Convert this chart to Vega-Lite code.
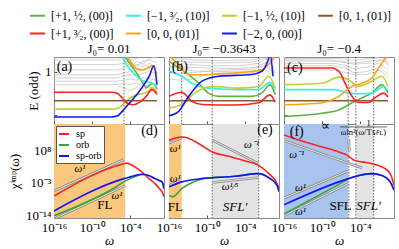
{
"$schema":"https://vega.github.io/schema/vega-lite/v6.json",
"padding":{"left":8,"top":7,"right":4,"bottom":2},
"config":{
 "font":"Liberation Serif",
 "view":{"stroke":"#888","strokeWidth":1},
 "axis":{"grid":false,"domain":false,"tickColor":"#555","tickSize":-3,"labelPadding":6,"labelFont":"Liberation Serif","labelFontSize":13,"labelColor":"#000","titleFont":"Liberation Serif","titleFontSize":13,"titleFontWeight":"normal","titleColor":"#000","labelFlush":false,"labelOverlap":false,"titlePadding":4},
 "axisX":{"titlePadding":0},
 "title":{"font":"Liberation Serif","fontSize":13,"fontWeight":"normal","offset":1,"color":"#000"}
},
"datasets":{
"V":[{"p":"a","x":1e-5},{"p":"b","x":1e-14},{"p":"b","x":6.31e-10},{"p":"b","x":0.0126},{"p":"c","x":1.26e-6},{"p":"c","x":2e-5},{"p":"c","x":0.0126},{"p":"e","x":6.31e-10},{"p":"e","x":0.0126},{"p":"f","x":1.58e-6},{"p":"f","x":2e-5},{"p":"f","x":0.0126}],
"B":[{"p":"d","k":"FL","x":1e-16,"x2":1.58e-5},{"p":"e","k":"FL","x":1e-16,"x2":1e-14},{"p":"e","k":"SFLp","x":6.31e-10,"x2":0.0126},{"p":"f","k":"SFL","x":1e-16,"x2":1.26e-6},{"p":"f","k":"SFLp","x":2e-5,"x2":0.0126}],
"R":[{"p":"f","x":6.31e-8,"x2":1.58,"y":1e16}],
"E":[
{"p":"a","s":"g","x":1e-16,"y":2.0},{"p":"a","s":"g","x":1e-6,"y":1.9},{"p":"a","s":"g","x":1.58e-5,"y":1.5},{"p":"a","s":"g","x":1e-4,"y":1.25},{"p":"a","s":"g","x":1e-3,"y":0.95},{"p":"a","s":"g","x":0.01,"y":0.6},{"p":"a","s":"g","x":0.0316,"y":0.45},{"p":"a","s":"g","x":0.316,"y":0.6},{"p":"a","s":"g","x":1.58,"y":0.4},
{"p":"a","s":"c","x":1e-16,"y":2.0},{"p":"a","s":"c","x":1e-6,"y":1.8},{"p":"a","s":"c","x":6.31e-6,"y":1.5},{"p":"a","s":"c","x":3.16e-5,"y":1.2},{"p":"a","s":"c","x":3.16e-4,"y":0.95},{"p":"a","s":"c","x":3.16e-3,"y":0.75},{"p":"a","s":"c","x":0.0316,"y":0.65},{"p":"a","s":"c","x":0.316,"y":0.6},{"p":"a","s":"c","x":1.58,"y":0.5},
{"p":"a","s":"y","x":1e-16,"y":-0.29},{"p":"a","s":"y","x":1e-7,"y":-0.29},{"p":"a","s":"y","x":1e-6,"y":-0.27},{"p":"a","s":"y","x":3.16e-6,"y":-0.2},{"p":"a","s":"y","x":1e-5,"y":-0.1},{"p":"a","s":"y","x":1e-4,"y":0.1},{"p":"a","s":"y","x":1e-3,"y":0.2},{"p":"a","s":"y","x":0.01,"y":0.25},{"p":"a","s":"y","x":0.1,"y":0.35},{"p":"a","s":"y","x":0.251,"y":0.45},{"p":"a","s":"y","x":1.58,"y":0.3},
{"p":"a","s":"n","x":1e-16,"y":0},{"p":"a","s":"n","x":1.58,"y":0},
{"p":"a","s":"r","x":1e-16,"y":0.29},{"p":"a","s":"r","x":1e-7,"y":0.29},{"p":"a","s":"r","x":1e-6,"y":0.25},{"p":"a","s":"r","x":3.16e-6,"y":0.15},{"p":"a","s":"r","x":1e-5,"y":0.03},{"p":"a","s":"r","x":3.16e-5,"y":-0.08},{"p":"a","s":"r","x":3.16e-4,"y":-0.14},{"p":"a","s":"r","x":3.16e-3,"y":-0.05},{"p":"a","s":"r","x":0.0316,"y":0.15},{"p":"a","s":"r","x":0.251,"y":0.38},{"p":"a","s":"r","x":1.58,"y":0.22},
{"p":"a","s":"o","x":1e-16,"y":2.2},{"p":"a","s":"o","x":1e-6,"y":2.0},{"p":"a","s":"o","x":3.16e-5,"y":1.5},{"p":"a","s":"o","x":1e-4,"y":1.35},{"p":"a","s":"o","x":1e-3,"y":1.1},{"p":"a","s":"o","x":0.01,"y":1.06},{"p":"a","s":"o","x":0.1,"y":1.15},{"p":"a","s":"o","x":0.316,"y":1.2},{"p":"a","s":"o","x":1.58,"y":0.9},
{"p":"a","s":"b","x":1e-16,"y":-0.56},{"p":"a","s":"b","x":1e-7,"y":-0.56},{"p":"a","s":"b","x":1e-6,"y":-0.52},{"p":"a","s":"b","x":3.16e-6,"y":-0.42},{"p":"a","s":"b","x":1e-5,"y":-0.3},{"p":"a","s":"b","x":1e-4,"y":-0.05},{"p":"a","s":"b","x":1e-3,"y":0.2},{"p":"a","s":"b","x":0.01,"y":0.5},{"p":"a","s":"b","x":0.1,"y":0.85},{"p":"a","s":"b","x":0.501,"y":1.2},{"p":"a","s":"b","x":1.58,"y":0.55},
{"p":"b","s":"g","x":1e-16,"y":1.35},{"p":"b","s":"g","x":1e-14,"y":1.06},{"p":"b","s":"g","x":5.01e-12,"y":0.6},{"p":"b","s":"g","x":1.58e-10,"y":0.26},{"p":"b","s":"g","x":6.31e-9,"y":0.15},{"p":"b","s":"g","x":1e-3,"y":0.15},{"p":"b","s":"g","x":0.0398,"y":0.26},{"p":"b","s":"g","x":0.794,"y":0.55},{"p":"b","s":"g","x":5.01,"y":0.2},
{"p":"b","s":"c","x":1e-16,"y":1.01},{"p":"b","s":"c","x":1e-14,"y":0.84},{"p":"b","s":"c","x":3.98e-13,"y":0.6},{"p":"b","s":"c","x":1.58e-10,"y":0.43},{"p":"b","s":"c","x":2.51e-6,"y":0.38},{"p":"b","s":"c","x":0.0126,"y":0.38},{"p":"b","s":"c","x":0.794,"y":0.63},{"p":"b","s":"c","x":5.01,"y":0.38},
{"p":"b","s":"y","x":1e-16,"y":-0.25},{"p":"b","s":"y","x":1e-14,"y":-0.13},{"p":"b","s":"y","x":1.26e-12,"y":0.27},{"p":"b","s":"y","x":6.31e-10,"y":0.49},{"p":"b","s":"y","x":1e-5,"y":0.43},{"p":"b","s":"y","x":0.0126,"y":0.49},{"p":"b","s":"y","x":0.501,"y":0.84},{"p":"b","s":"y","x":5.01,"y":0.43},
{"p":"b","s":"n","x":1e-16,"y":0},{"p":"b","s":"n","x":5.01,"y":0},
{"p":"b","s":"r","x":1e-16,"y":0.15},{"p":"b","s":"r","x":1e-14,"y":0.29},{"p":"b","s":"r","x":3.98e-13,"y":-0.02},{"p":"b","s":"r","x":1.58e-11,"y":-0.13},{"p":"b","s":"r","x":2.51e-6,"y":-0.15},{"p":"b","s":"r","x":0.0126,"y":-0.07},{"p":"b","s":"r","x":0.794,"y":0.2},{"p":"b","s":"r","x":5.01,"y":-0.05},
{"p":"b","s":"o","x":1e-16,"y":1.55},{"p":"b","s":"o","x":3.16e-15,"y":1.24},{"p":"b","s":"o","x":1.26e-13,"y":0.89},{"p":"b","s":"o","x":1.58e-11,"y":0.89},{"p":"b","s":"o","x":6.31e-9,"y":0.92},{"p":"b","s":"o","x":1e-3,"y":1.0},{"p":"b","s":"o","x":0.0398,"y":1.06},{"p":"b","s":"o","x":0.794,"y":1.3},{"p":"b","s":"o","x":5.01,"y":1.55},
{"p":"b","s":"b","x":1e-16,"y":-0.52},{"p":"b","s":"b","x":3.16e-15,"y":-0.37},{"p":"b","s":"b","x":1.26e-13,"y":0.15},{"p":"b","s":"b","x":1.58e-11,"y":0.67},{"p":"b","s":"b","x":6.31e-9,"y":0.84},{"p":"b","s":"b","x":1e-3,"y":0.9},{"p":"b","s":"b","x":0.0398,"y":1.01},{"p":"b","s":"b","x":0.398,"y":1.4},{"p":"b","s":"b","x":0.794,"y":1.6},{"p":"b","s":"b","x":2.24,"y":0.84},
{"p":"c","s":"g","x":1e-16,"y":-0.54},{"p":"c","s":"g","x":1e-10,"y":-0.43},{"p":"c","s":"g","x":3.98e-8,"y":-0.32},{"p":"c","s":"g","x":5.01e-6,"y":-0.07},{"p":"c","s":"g","x":2e-4,"y":0.1},{"p":"c","s":"g","x":6.31e-3,"y":0.26},{"p":"c","s":"g","x":0.251,"y":0.55},{"p":"c","s":"g","x":2.24,"y":0.26},
{"p":"c","s":"c","x":1e-16,"y":0.38},{"p":"c","s":"c","x":1e-8,"y":0.38},{"p":"c","s":"c","x":1.58e-6,"y":0.26},{"p":"c","s":"c","x":5.01e-5,"y":0.24},{"p":"c","s":"c","x":6.31e-3,"y":0.26},{"p":"c","s":"c","x":0.501,"y":0.49},{"p":"c","s":"c","x":2.24,"y":0.33},
{"p":"c","s":"y","x":1e-16,"y":0.55},{"p":"c","s":"y","x":1e-10,"y":0.6},{"p":"c","s":"y","x":3.98e-8,"y":0.81},{"p":"c","s":"y","x":1.58e-6,"y":0.72},{"p":"c","s":"y","x":5.01e-5,"y":0.49},{"p":"c","s":"y","x":6.31e-3,"y":0.67},{"p":"c","s":"y","x":0.251,"y":0.84},{"p":"c","s":"y","x":2.24,"y":0.49},
{"p":"c","s":"n","x":1e-16,"y":0},{"p":"c","s":"n","x":2.24,"y":0},
{"p":"c","s":"r","x":1e-16,"y":1.12},{"p":"c","s":"r","x":3.16e-9,"y":1.12},{"p":"c","s":"r","x":6.31e-8,"y":0.96},{"p":"c","s":"r","x":3.98e-7,"y":0.6},{"p":"c","s":"r","x":5.01e-6,"y":0.15},{"p":"c","s":"r","x":5.01e-5,"y":-0.06},{"p":"c","s":"r","x":2e-3,"y":-0.06},{"p":"c","s":"r","x":0.02,"y":0.1},{"p":"c","s":"r","x":0.501,"y":0.26},{"p":"c","s":"r","x":2.24,"y":0.13},
{"p":"c","s":"o","x":1e-16,"y":-0.14},{"p":"c","s":"o","x":1e-10,"y":-0.07},{"p":"c","s":"o","x":3.98e-8,"y":0.15},{"p":"c","s":"o","x":5.01e-6,"y":0.49},{"p":"c","s":"o","x":2e-4,"y":0.6},{"p":"c","s":"o","x":6.31e-3,"y":0.78},{"p":"c","s":"o","x":0.251,"y":1.29},{"p":"c","s":"o","x":2.24,"y":1.55}
],
"G":[
{"p":"a","g":"1","x":1e-16,"y":1.4},{"p":"a","g":"1","x":1e-6,"y":1.4},{"p":"a","g":"1","x":1e-5,"y":1.45},{"p":"a","g":"1","x":1e-4,"y":1.55},
{"p":"a","g":"2","x":1e-16,"y":1.24},{"p":"a","g":"2","x":1e-6,"y":1.24},{"p":"a","g":"2","x":1e-5,"y":1.3},{"p":"a","g":"2","x":1e-4,"y":1.4},{"p":"a","g":"2","x":1e-3,"y":1.45},{"p":"a","g":"2","x":0.01,"y":1.55},
{"p":"a","g":"3","x":1e-16,"y":1.06},{"p":"a","g":"3","x":1e-6,"y":1.06},{"p":"a","g":"3","x":1e-5,"y":1.1},{"p":"a","g":"3","x":1e-4,"y":1.3},{"p":"a","g":"3","x":1e-3,"y":1.2},{"p":"a","g":"3","x":0.01,"y":1.35},{"p":"a","g":"3","x":0.1,"y":1.4},{"p":"a","g":"3","x":1.58,"y":1.3},
{"p":"a","g":"4","x":1e-16,"y":0.89},{"p":"a","g":"4","x":1e-6,"y":0.89},{"p":"a","g":"4","x":1e-5,"y":0.95},{"p":"a","g":"4","x":1e-4,"y":1.0},{"p":"a","g":"4","x":1e-3,"y":1.25},{"p":"a","g":"4","x":0.01,"y":1.15},{"p":"a","g":"4","x":0.1,"y":1.3},{"p":"a","g":"4","x":1.58,"y":1.1},
{"p":"a","g":"5","x":1e-16,"y":0.78},{"p":"a","g":"5","x":1e-6,"y":0.78},{"p":"a","g":"5","x":1e-5,"y":0.85},{"p":"a","g":"5","x":1e-4,"y":0.9},{"p":"a","g":"5","x":1e-3,"y":0.85},{"p":"a","g":"5","x":0.01,"y":0.95},{"p":"a","g":"5","x":0.1,"y":1.0},{"p":"a","g":"5","x":1.58,"y":0.95},
{"p":"a","g":"6","x":1e-16,"y":0.67},{"p":"a","g":"6","x":1e-6,"y":0.67},{"p":"a","g":"6","x":1e-5,"y":0.7},{"p":"a","g":"6","x":1e-4,"y":0.75},{"p":"a","g":"6","x":1e-3,"y":0.7},{"p":"a","g":"6","x":0.01,"y":0.8},{"p":"a","g":"6","x":0.1,"y":0.75},{"p":"a","g":"6","x":1.58,"y":0.7},
{"p":"a","g":"7","x":1e-16,"y":0.55},{"p":"a","g":"7","x":1e-6,"y":0.55},{"p":"a","g":"7","x":1e-5,"y":0.6},{"p":"a","g":"7","x":1e-4,"y":0.55},{"p":"a","g":"7","x":1e-3,"y":0.6},{"p":"a","g":"7","x":0.01,"y":0.5},{"p":"a","g":"7","x":0.1,"y":0.55},{"p":"a","g":"7","x":1.58,"y":0.6},
{"p":"a","g":"8","x":1e-6,"y":0.5},{"p":"a","g":"8","x":1e-5,"y":0.45},{"p":"a","g":"8","x":1e-4,"y":0.35},{"p":"a","g":"8","x":1e-3,"y":0.45},{"p":"a","g":"8","x":0.01,"y":0.4},{"p":"a","g":"8","x":0.1,"y":0.45},{"p":"a","g":"8","x":1.58,"y":0.35},
{"p":"a","g":"9","x":3.16e-6,"y":1.55},{"p":"a","g":"9","x":1e-4,"y":1.15},{"p":"a","g":"9","x":1e-3,"y":1.35},{"p":"a","g":"9","x":0.01,"y":1.25},{"p":"a","g":"9","x":0.1,"y":1.45},{"p":"a","g":"9","x":1.58,"y":1.5},
{"p":"a","g":"10","x":3.16e-5,"y":1.55},{"p":"a","g":"10","x":1e-3,"y":1.05},{"p":"a","g":"10","x":0.01,"y":1.05},{"p":"a","g":"10","x":0.1,"y":1.2},{"p":"a","g":"10","x":1.58,"y":1.2},
{"p":"b","g":"1","x":1e-16,"y":1.45},{"p":"b","g":"1","x":1e-12,"y":1.4},{"p":"b","g":"1","x":1e-8,"y":1.38},{"p":"b","g":"1","x":1e-3,"y":1.4},{"p":"b","g":"1","x":0.1,"y":1.5},{"p":"b","g":"1","x":5.01,"y":1.45},
{"p":"b","g":"2","x":1e-16,"y":1.3},{"p":"b","g":"2","x":1e-13,"y":1.25},{"p":"b","g":"2","x":1e-10,"y":1.2},{"p":"b","g":"2","x":1e-5,"y":1.2},{"p":"b","g":"2","x":0.01,"y":1.28},{"p":"b","g":"2","x":0.316,"y":1.45},{"p":"b","g":"2","x":5.01,"y":1.3},
{"p":"b","g":"3","x":1e-16,"y":1.15},{"p":"b","g":"3","x":1e-13,"y":1.15},{"p":"b","g":"3","x":1e-10,"y":1.12},{"p":"b","g":"3","x":1e-5,"y":1.1},{"p":"b","g":"3","x":0.01,"y":1.15},{"p":"b","g":"3","x":0.316,"y":1.35},{"p":"b","g":"3","x":5.01,"y":1.1},
{"p":"b","g":"4","x":1e-16,"y":1.2},{"p":"b","g":"4","x":1e-14,"y":1.1},{"p":"b","g":"4","x":1e-12,"y":1.02},{"p":"b","g":"4","x":1e-8,"y":1.0},{"p":"b","g":"4","x":1e-3,"y":1.02},{"p":"b","g":"4","x":0.1,"y":1.2},{"p":"b","g":"4","x":5.01,"y":0.95},
{"p":"b","g":"5","x":1e-16,"y":0.95},{"p":"b","g":"5","x":1e-14,"y":0.95},{"p":"b","g":"5","x":1e-12,"y":0.97},{"p":"b","g":"5","x":1e-8,"y":1.05},{"p":"b","g":"5","x":1e-3,"y":1.08},{"p":"b","g":"5","x":0.1,"y":1.3},{"p":"b","g":"5","x":5.01,"y":1.0},
{"p":"b","g":"6","x":1e-16,"y":1.38},{"p":"b","g":"6","x":1e-13,"y":1.33},{"p":"b","g":"6","x":1e-8,"y":1.3},{"p":"b","g":"6","x":1e-3,"y":1.32},{"p":"b","g":"6","x":0.1,"y":1.45},{"p":"b","g":"6","x":5.01,"y":1.4},
{"p":"b","g":"7","x":1e-16,"y":0.75},{"p":"b","g":"7","x":1e-14,"y":0.7},{"p":"b","g":"7","x":1e-12,"y":0.75},{"p":"b","g":"7","x":1e-10,"y":0.9},{"p":"b","g":"7","x":1e-8,"y":0.95},{"p":"b","g":"7","x":1e-3,"y":0.95},{"p":"b","g":"7","x":0.1,"y":1.1},{"p":"b","g":"7","x":5.01,"y":0.8},
{"p":"c","g":"1","x":1e-16,"y":1.45},{"p":"c","g":"1","x":1e-8,"y":1.45},{"p":"c","g":"1","x":1e-5,"y":1.4},{"p":"c","g":"1","x":0.01,"y":1.45},{"p":"c","g":"1","x":1,"y":1.55},
{"p":"c","g":"2","x":1e-16,"y":1.36},{"p":"c","g":"2","x":1e-8,"y":1.36},{"p":"c","g":"2","x":1e-6,"y":1.3},{"p":"c","g":"2","x":1e-5,"y":1.25},{"p":"c","g":"2","x":0.01,"y":1.3},{"p":"c","g":"2","x":1,"y":1.45},{"p":"c","g":"2","x":2.24,"y":1.2},
{"p":"c","g":"3","x":1e-16,"y":1.28},{"p":"c","g":"3","x":1e-8,"y":1.28},{"p":"c","g":"3","x":1e-6,"y":1.2},{"p":"c","g":"3","x":1e-5,"y":1.1},{"p":"c","g":"3","x":1e-3,"y":1.15},{"p":"c","g":"3","x":0.1,"y":1.3},{"p":"c","g":"3","x":2.24,"y":1.05},
{"p":"c","g":"4","x":1e-16,"y":1.2},{"p":"c","g":"4","x":1e-8,"y":1.2},{"p":"c","g":"4","x":1e-6,"y":1.1},{"p":"c","g":"4","x":1e-5,"y":0.95},{"p":"c","g":"4","x":1e-3,"y":1.0},{"p":"c","g":"4","x":0.1,"y":1.15},{"p":"c","g":"4","x":2.24,"y":0.9},
{"p":"c","g":"5","x":1e-16,"y":1.4},{"p":"c","g":"5","x":1e-9,"y":1.4},{"p":"c","g":"5","x":1e-7,"y":1.35},{"p":"c","g":"5","x":1e-5,"y":1.3},{"p":"c","g":"5","x":1e-3,"y":1.35},{"p":"c","g":"5","x":0.1,"y":1.4},{"p":"c","g":"5","x":2.24,"y":1.3},
{"p":"c","g":"6","x":1e-16,"y":1.05},{"p":"c","g":"6","x":1e-8,"y":1.05},{"p":"c","g":"6","x":1e-6,"y":0.95},{"p":"c","g":"6","x":1e-5,"y":0.9},{"p":"c","g":"6","x":1e-3,"y":0.9},{"p":"c","g":"6","x":0.1,"y":1.05},{"p":"c","g":"6","x":2.24,"y":0.8}
],
"C":[
{"p":"d","s":"sp","x":1e-16,"y":3.16e-8},{"p":"d","s":"sp","x":1e-5,"y":3162},{"p":"d","s":"sp","x":2.51e-5,"y":5012},{"p":"d","s":"sp","x":1e-4,"y":1995},{"p":"d","s":"sp","x":1e-3,"y":100},{"p":"d","s":"sp","x":6.31e-3,"y":5.01},{"p":"d","s":"sp","x":0.1,"y":0.02},{"p":"d","s":"sp","x":0.794,"y":5.01e-4},{"p":"d","s":"sp","x":3.16,"y":1.58e-5},{"p":"d","s":"sp","x":10,"y":7.94e-7},{"p":"d","s":"sp","x":20,"y":1.58e-8},
{"p":"d","s":"orb","x":1e-16,"y":6.31e-15},{"p":"d","s":"orb","x":3.98e-7,"y":2.51e-5},{"p":"d","s":"orb","x":1e-5,"y":2e-3},{"p":"d","s":"orb","x":1e-4,"y":0.0251},{"p":"d","s":"orb","x":1e-3,"y":0.2},{"p":"d","s":"orb","x":6.31e-3,"y":0.631},{"p":"d","s":"orb","x":0.1,"y":0.251},{"p":"d","s":"orb","x":0.794,"y":0.0251},{"p":"d","s":"orb","x":3.16,"y":6.31e-3},{"p":"d","s":"orb","x":10,"y":2e-3},{"p":"d","s":"orb","x":20,"y":1e-5},
{"p":"d","s":"sp-orb","x":1e-16,"y":2.51e-13},{"p":"d","s":"sp-orb","x":1e-5,"y":0.0251},{"p":"d","s":"sp-orb","x":1e-4,"y":0.1},{"p":"d","s":"sp-orb","x":1e-3,"y":0.398},{"p":"d","s":"sp-orb","x":6.31e-3,"y":0.794},{"p":"d","s":"sp-orb","x":0.1,"y":0.251},{"p":"d","s":"sp-orb","x":0.794,"y":0.0251},{"p":"d","s":"sp-orb","x":3.16,"y":6.31e-3},{"p":"d","s":"sp-orb","x":10,"y":2e-3},{"p":"d","s":"sp-orb","x":20,"y":1e-5},
{"p":"e","s":"sp","x":1e-16,"y":3.16e11},{"p":"e","s":"sp","x":1e-14,"y":3.98e12},{"p":"e","s":"sp","x":3.16e-14,"y":3.16e12},{"p":"e","s":"sp","x":5.01e-12,"y":2e10},{"p":"e","s":"sp","x":6.31e-10,"y":3.16e7},{"p":"e","s":"sp","x":2.51e-7,"y":1e6},{"p":"e","s":"sp","x":1e-4,"y":2.51e4},{"p":"e","s":"sp","x":0.0126,"y":794},{"p":"e","s":"sp","x":0.501,"y":1.26},{"p":"e","s":"sp","x":10,"y":5.01e-4},{"p":"e","s":"sp","x":20,"y":1e-5},
{"p":"e","s":"orb","x":1e-16,"y":5.01e-8},{"p":"e","s":"orb","x":3.98e-16,"y":1.58e-8},{"p":"e","s":"orb","x":1e-14,"y":1e-5},{"p":"e","s":"orb","x":1.26e-13,"y":3.16e-4},{"p":"e","s":"orb","x":5.01e-12,"y":0.01},{"p":"e","s":"orb","x":1.58e-11,"y":0.0251},{"p":"e","s":"orb","x":2.51e-6,"y":0.158},{"p":"e","s":"orb","x":0.0126,"y":1.26},{"p":"e","s":"orb","x":0.501,"y":0.0501},{"p":"e","s":"orb","x":10,"y":1.26e-4},{"p":"e","s":"orb","x":20,"y":1e-6},
{"p":"e","s":"sp-orb","x":1e-16,"y":3.98e-5},{"p":"e","s":"sp-orb","x":1e-14,"y":2e-3},{"p":"e","s":"sp-orb","x":1.58e-11,"y":0.0251},{"p":"e","s":"sp-orb","x":2.51e-6,"y":0.158},{"p":"e","s":"sp-orb","x":0.0126,"y":1.26},{"p":"e","s":"sp-orb","x":0.501,"y":0.0501},{"p":"e","s":"sp-orb","x":10,"y":1.26e-4},{"p":"e","s":"sp-orb","x":20,"y":1e-6},
{"p":"f","s":"sp","x":1e-16,"y":2e13},{"p":"f","s":"sp","x":2e-13,"y":7.94e10},{"p":"f","s":"sp","x":1e-10,"y":1.58e9},{"p":"f","s":"sp","x":3.98e-8,"y":3.16e7},{"p":"f","s":"sp","x":7.94e-7,"y":2.51e6},{"p":"f","s":"sp","x":1e-5,"y":5.01e4},{"p":"f","s":"sp","x":2e-4,"y":1.26e4},{"p":"f","s":"sp","x":6.31e-3,"y":3162},{"p":"f","s":"sp","x":0.251,"y":251},{"p":"f","s":"sp","x":5.01,"y":1.26},{"p":"f","s":"sp","x":12.6,"y":6.31e-3},{"p":"f","s":"sp","x":20,"y":1e-4},
{"p":"f","s":"orb","x":1e-16,"y":2.51e-14},{"p":"f","s":"orb","x":5.01e-7,"y":6.31e-3},{"p":"f","s":"orb","x":1.26e-6,"y":0.02},{"p":"f","s":"orb","x":6.31e-5,"y":0.316},{"p":"f","s":"orb","x":6.31e-3,"y":1.26},{"p":"f","s":"orb","x":0.251,"y":0.316},{"p":"f","s":"orb","x":5.01,"y":2e-3},{"p":"f","s":"orb","x":20,"y":3.16e-6},
{"p":"f","s":"sp-orb","x":1e-16,"y":3.16e-11},{"p":"f","s":"sp-orb","x":1.26e-6,"y":0.0251},{"p":"f","s":"sp-orb","x":6.31e-5,"y":0.316},{"p":"f","s":"sp-orb","x":6.31e-3,"y":1.26},{"p":"f","s":"sp-orb","x":0.251,"y":0.316},{"p":"f","s":"sp-orb","x":5.01,"y":2e-3},{"p":"f","s":"sp-orb","x":20,"y":3.16e-6}
],
"L":[
{"p":"d","g":"1","x":1e-16,"y":1.58e-6},{"p":"d","g":"1","x":1e-5,"y":7.94e4},
{"p":"d","g":"2","x":1e-16,"y":5.01e-16},{"p":"d","g":"2","x":1.58e-5,"y":1e-4},
{"p":"e","g":"1","x":1e-16,"y":3.16e10},{"p":"e","g":"1","x":1e-14,"y":2e12},
{"p":"e","g":"2","x":1e-16,"y":1.26e-4},{"p":"e","g":"2","x":6.31e-15,"y":6.31e-3},
{"p":"e","g":"3","x":6.31e-10,"y":3.16e11},{"p":"e","g":"3","x":0.0126,"y":3162},
{"p":"e","g":"4","x":6.31e-10,"y":1.26e-3},{"p":"e","g":"4","x":0.0126,"y":0.0631},
{"p":"f","g":"1","x":1e-16,"y":2e11},{"p":"f","g":"1","x":2e-4,"y":100},
{"p":"f","g":"2","x":1e-16,"y":6.31e-9},{"p":"f","g":"2","x":1.26e-6,"y":10},
{"p":"f","g":"3","x":1e-16,"y":6.31e-15},{"p":"f","g":"3","x":1.26e-6,"y":5.01e-4},
{"p":"f","g":"4","x":1.58e-6,"y":1e12},{"p":"f","g":"4","x":1.78e-6,"y":3.16e8},{"p":"f","g":"4","x":2.51e-6,"y":6.31e7}
],
"T":[
{"p":"a","k":"lab","t":"(a)","x":4.47e-15,"y":1.15},
{"p":"b","k":"lab","t":"(b)","x":5.01e-15,"y":1.17},
{"p":"c","k":"lab","t":"(c)","x":5.01e-15,"y":1.12},
{"p":"d","k":"lab","t":"(d)","x":0.1,"y":3.98e14},
{"p":"d","k":"om","t":"ω¹","x":1.26e-12,"y":50},
{"p":"d","k":"om","t":"ω¹","x":7.94e-7,"y":3.16e-8},
{"p":"d","k":"big","t":"FL","x":1e-8,"y":2.51e-11},
{"p":"e","k":"lab","t":"(e)","x":0.126,"y":1e15},
{"p":"e","k":"om","t":"ω¹","x":1e-15,"y":3.98e8},
{"p":"e","k":"om","t":"ω¹","x":1e-15,"y":0.0251},
{"p":"e","k":"om","t":"ω⁻¹","x":1e-3,"y":6.31e9},
{"p":"e","k":"om","t":"ω¹⁄⁵","x":3.98e-7,"y":3.98e-5},
{"p":"e","k":"big","t":"FL","x":1e-15,"y":6.31e-12},
{"p":"e","k":"it","t":"SFL′","x":2.51e-6,"y":6.31e-12},
{"p":"f","k":"lab","t":"(f)","x":1e-14,"y":2e14},
{"p":"f","k":"om","t":"ω⁻¹","x":1e-14,"y":2.51e6},
{"p":"f","k":"om","t":"ω¹","x":3.98e-14,"y":1.26e-5},
{"p":"f","k":"om","t":"ω¹","x":3.98e-14,"y":1.26e-13},
{"p":"f","k":"big","t":"SFL","x":7.94e-8,"y":1e-11},
{"p":"f","k":"it","t":"SFL′","x":2e-3,"y":1e-11},
{"p":"f","k":"ann1","t":"∝","x":3.16e-10,"y":1.58e16},
{"p":"f","k":"ann2","t":"1","x":2e-3,"y":2e17},
{"p":"f","k":"ann2","t":"ωln²(ω/Tꜱꜰʟ)","x":3.16e-4,"y":2e14}
]
},
"columns":3,
"spacing":{"row":0,"column":5},
"bounds":"flush",
"resolve":{"scale":{"color":"shared","stroke":"independent","fill":"independent"},"legend":{"stroke":"independent"}},
"concat":[
{"width":110,"height":67,"title":"J₀= 0.01",
 "layer":[
  {"data":{"name":"G"},"transform":[{"filter":"datum.p=='a'"}],"mark":{"type":"line","stroke":"#c6c6c6","strokeWidth":0.8,"clip":true},
   "encoding":{"x":{"field":"x","type":"quantitative","scale":{"type":"log","domain":[1e-16,20],"nice":false},"axis":{"values":[1e-16,1e-10,1e-4],"labels":false,"title":null}},
    "y":{"field":"y","type":"quantitative","scale":{"domain":[-0.8,1.5],"nice":false,"zero":false},"axis":{"values":[-0.5,0,0.5,1],"labelExpr":"datum.value==0?'0':datum.value==1?'1':''","title":"E (odd)"}},
    "detail":{"field":"g"}}},
  {"data":{"name":"V"},"transform":[{"filter":"datum.p=='a'"}],"mark":{"type":"rule","stroke":"#444","strokeWidth":0.8,"strokeDash":[1.5,1.5]},
   "encoding":{"x":{"field":"x","type":"quantitative","scale":{"type":"log","domain":[1e-16,20],"nice":false}}}},
  {"data":{"name":"E"},"transform":[{"filter":"datum.p=='a'"}],"mark":{"type":"line","strokeWidth":1.6,"clip":true,"interpolate":"monotone"},
   "encoding":{"x":{"field":"x","type":"quantitative","scale":{"type":"log","domain":[1e-16,20],"nice":false}},
    "y":{"field":"y","type":"quantitative","scale":{"domain":[-0.8,1.5],"nice":false,"zero":false}},
    "color":{"field":"s","type":"nominal","scale":{"domain":["g","c","y","n","r","o","b"],"range":["#63b33b","#36eef0","#c8cc2e","#8b5a2b","#ff2020","#ffa214","#1515f5"]},
     "legend":{"orient":"none","legendX":-25,"legendY":-50,"columns":4,"direction":"horizontal","title":null,"symbolType":"stroke","symbolStrokeWidth":2,"symbolSize":220,"labelFont":"Liberation Serif","labelFontSize":12,"labelOffset":5,"columnPadding":8,"rowPadding":3,"gridAlign":"all","labelLimit":200,
      "labelExpr":"datum.label=='g'?'[+1, ½, (00)]':datum.label=='c'?'[−1, ³⁄₂, (10)]':datum.label=='y'?'[−1, ½, (10)]':datum.label=='n'?'[0, 1, (01)]':datum.label=='r'?'[+1, ³⁄₂, (00)]':datum.label=='o'?'[0, 0, (01)]':'[−2, 0, (00)]'"}}}},
  {"data":{"name":"T"},"transform":[{"filter":"datum.p=='a'"}],"mark":{"type":"text","fontSize":14},
   "encoding":{"x":{"field":"x","type":"quantitative","scale":{"type":"log","domain":[1e-16,20],"nice":false}},"y":{"field":"y","type":"quantitative","scale":{"domain":[-0.8,1.5],"nice":false,"zero":false}},"text":{"field":"t"}}}
 ]},
{"width":110,"height":67,"title":"J₀= −0.3643",
 "layer":[
  {"data":{"name":"G"},"transform":[{"filter":"datum.p=='b'"}],"mark":{"type":"line","stroke":"#c6c6c6","strokeWidth":0.8,"clip":true},
   "encoding":{"x":{"field":"x","type":"quantitative","scale":{"type":"log","domain":[1e-16,20],"nice":false},"axis":{"values":[1e-16,1e-10,1e-4],"labels":false,"title":null}},
    "y":{"field":"y","type":"quantitative","scale":{"domain":[-0.8,1.5],"nice":false,"zero":false},"axis":{"values":[-0.5,0,0.5,1],"labels":false,"title":null}},
    "detail":{"field":"g"}}},
  {"data":{"name":"V"},"transform":[{"filter":"datum.p=='b'"}],"mark":{"type":"rule","stroke":"#444","strokeWidth":0.8,"strokeDash":[1.5,1.5]},
   "encoding":{"x":{"field":"x","type":"quantitative","scale":{"type":"log","domain":[1e-16,20],"nice":false}}}},
  {"data":{"name":"E"},"transform":[{"filter":"datum.p=='b'"}],"mark":{"type":"line","strokeWidth":1.6,"clip":true,"interpolate":"monotone"},
   "encoding":{"x":{"field":"x","type":"quantitative","scale":{"type":"log","domain":[1e-16,20],"nice":false}},
    "y":{"field":"y","type":"quantitative","scale":{"domain":[-0.8,1.5],"nice":false,"zero":false}},
    "color":{"field":"s","type":"nominal","scale":{"domain":["g","c","y","n","r","o","b"],"range":["#63b33b","#36eef0","#c8cc2e","#8b5a2b","#ff2020","#ffa214","#1515f5"]},
     "legend":{"orient":"none","legendX":-25,"legendY":-50,"columns":4,"direction":"horizontal","title":null,"symbolType":"stroke","symbolStrokeWidth":2,"symbolSize":220,"labelFont":"Liberation Serif","labelFontSize":12,"labelOffset":5,"columnPadding":8,"rowPadding":3,"gridAlign":"all","labelLimit":200,
      "labelExpr":"datum.label=='g'?'[+1, ½, (00)]':datum.label=='c'?'[−1, ³⁄₂, (10)]':datum.label=='y'?'[−1, ½, (10)]':datum.label=='n'?'[0, 1, (01)]':datum.label=='r'?'[+1, ³⁄₂, (00)]':datum.label=='o'?'[0, 0, (01)]':'[−2, 0, (00)]'"}}}},
  {"data":{"name":"T"},"transform":[{"filter":"datum.p=='b'"}],"mark":{"type":"text","fontSize":14},
   "encoding":{"x":{"field":"x","type":"quantitative","scale":{"type":"log","domain":[1e-16,20],"nice":false}},"y":{"field":"y","type":"quantitative","scale":{"domain":[-0.8,1.5],"nice":false,"zero":false}},"text":{"field":"t"}}}
 ]},
{"width":110,"height":67,"title":"J₀= −0.4",
 "layer":[
  {"data":{"name":"G"},"transform":[{"filter":"datum.p=='c'"}],"mark":{"type":"line","stroke":"#c6c6c6","strokeWidth":0.8,"clip":true},
   "encoding":{"x":{"field":"x","type":"quantitative","scale":{"type":"log","domain":[1e-16,20],"nice":false},"axis":{"values":[1e-16,1e-10,1e-4],"labels":false,"title":null}},
    "y":{"field":"y","type":"quantitative","scale":{"domain":[-0.8,1.5],"nice":false,"zero":false},"axis":{"values":[-0.5,0,0.5,1],"labels":false,"title":null}},
    "detail":{"field":"g"}}},
  {"data":{"name":"V"},"transform":[{"filter":"datum.p=='c'"}],"mark":{"type":"rule","stroke":"#444","strokeWidth":0.8,"strokeDash":[1.5,1.5]},
   "encoding":{"x":{"field":"x","type":"quantitative","scale":{"type":"log","domain":[1e-16,20],"nice":false}}}},
  {"data":{"name":"E"},"transform":[{"filter":"datum.p=='c'"}],"mark":{"type":"line","strokeWidth":1.6,"clip":true,"interpolate":"monotone"},
   "encoding":{"x":{"field":"x","type":"quantitative","scale":{"type":"log","domain":[1e-16,20],"nice":false}},
    "y":{"field":"y","type":"quantitative","scale":{"domain":[-0.8,1.5],"nice":false,"zero":false}},
    "color":{"field":"s","type":"nominal","scale":{"domain":["g","c","y","n","r","o","b"],"range":["#63b33b","#36eef0","#c8cc2e","#8b5a2b","#ff2020","#ffa214","#1515f5"]},
     "legend":{"orient":"none","legendX":-25,"legendY":-50,"columns":4,"direction":"horizontal","title":null,"symbolType":"stroke","symbolStrokeWidth":2,"symbolSize":220,"labelFont":"Liberation Serif","labelFontSize":12,"labelOffset":5,"columnPadding":8,"rowPadding":3,"gridAlign":"all","labelLimit":200,
      "labelExpr":"datum.label=='g'?'[+1, ½, (00)]':datum.label=='c'?'[−1, ³⁄₂, (10)]':datum.label=='y'?'[−1, ½, (10)]':datum.label=='n'?'[0, 1, (01)]':datum.label=='r'?'[+1, ³⁄₂, (00)]':datum.label=='o'?'[0, 0, (01)]':'[−2, 0, (00)]'"}}}},
  {"data":{"name":"T"},"transform":[{"filter":"datum.p=='c'"}],"mark":{"type":"text","fontSize":14},
   "encoding":{"x":{"field":"x","type":"quantitative","scale":{"type":"log","domain":[1e-16,20],"nice":false}},"y":{"field":"y","type":"quantitative","scale":{"domain":[-0.8,1.5],"nice":false,"zero":false}},"text":{"field":"t"}}}
 ]},
{"width":110,"height":94,
 "layer":[
  {"data":{"name":"B"},"transform":[{"filter":"datum.p=='d'"}],"mark":{"type":"rect","opacity":1},
   "encoding":{"x":{"field":"x","type":"quantitative","scale":{"type":"log","domain":[1e-16,20],"nice":false},"axis":{"values":[1e-16,1e-10,1e-4],"labelExpr":"datum.value<1e-13?'10⁻¹⁶':datum.value<1e-7?'10⁻¹⁰':'10⁻⁴'","title":"ω","titleFontStyle":"italic"}},"x2":{"field":"x2"},
    "fill":{"field":"k","type":"nominal","scale":{"domain":["FL","SFL","SFLp"],"range":["#fac77c","#a8c4ee","#e3e3e3"]},"legend":null}}},
  {"data":{"name":"L"},"transform":[{"filter":"datum.p=='d'"}],"mark":{"type":"line","stroke":"#8a8a8a","strokeWidth":2.6,"clip":true},
   "encoding":{"x":{"field":"x","type":"quantitative","scale":{"type":"log","domain":[1e-16,20],"nice":false}},
    "y":{"field":"y","type":"quantitative","scale":{"type":"log","domain":[1e-15,1e17],"nice":false},"axis":{"values":[1e-14,1e-3,1e8],"labelExpr":"datum.value<1e-10?'10⁻¹⁴':datum.value<1?'10⁻³':'10⁸'","title":"χⁱᵐᵖ(ω)"}},"detail":{"field":"g"}}},
  {"data":{"name":"L"},"transform":[{"filter":"datum.p=='d'"}],"mark":{"type":"line","stroke":"#eeeeee","strokeWidth":0.9,"clip":true},
   "encoding":{"x":{"field":"x","type":"quantitative","scale":{"type":"log","domain":[1e-16,20],"nice":false}},"y":{"field":"y","type":"quantitative","scale":{"type":"log","domain":[1e-15,1e17],"nice":false}},"detail":{"field":"g"}}},
  {"data":{"name":"C"},"transform":[{"filter":"datum.p=='d'&&datum.s!='sp-orb'"}],"mark":{"type":"line","strokeWidth":1.6,"clip":true,"interpolate":"monotone"},
   "encoding":{"x":{"field":"x","type":"quantitative","scale":{"type":"log","domain":[1e-16,20],"nice":false}},"y":{"field":"y","type":"quantitative","scale":{"type":"log","domain":[1e-15,1e17],"nice":false}},
    "stroke":{"field":"s","type":"nominal","scale":{"domain":["sp","orb","sp-orb"],"range":["#ff2020","#35a835","#1515f5"]},
     "legend":{"orient":"top-left","offset":2,"title":null,"symbolType":"stroke","symbolStrokeWidth":2,"symbolSize":100,"labelFontSize":10,"labelFont":"Liberation Serif","padding":2,"strokeColor":"#555","fillColor":"#ffffff","rowPadding":0,"labelOffset":6}}}},
  {"data":{"name":"C"},"transform":[{"filter":"datum.p=='d'&&datum.s=='sp-orb'"}],"mark":{"type":"line","strokeWidth":1.6,"clip":true,"interpolate":"monotone"},
   "encoding":{"x":{"field":"x","type":"quantitative","scale":{"type":"log","domain":[1e-16,20],"nice":false}},"y":{"field":"y","type":"quantitative","scale":{"type":"log","domain":[1e-15,1e17],"nice":false}},
    "stroke":{"field":"s","type":"nominal","scale":{"domain":["sp","orb","sp-orb"],"range":["#ff2020","#35a835","#1515f5"]},
     "legend":{"orient":"top-left","offset":2,"title":null,"symbolType":"stroke","symbolStrokeWidth":2,"symbolSize":100,"labelFontSize":10,"labelFont":"Liberation Serif","padding":2,"strokeColor":"#555","fillColor":"#ffffff","rowPadding":0,"labelOffset":6}}}},
  {"data":{"name":"T"},"transform":[{"filter":"datum.p=='d'&&datum.k=='lab'"}],"mark":{"type":"text","fontSize":14},
   "encoding":{"x":{"field":"x","type":"quantitative","scale":{"type":"log","domain":[1e-16,20],"nice":false}},"y":{"field":"y","type":"quantitative","scale":{"type":"log","domain":[1e-15,1e17],"nice":false}},"text":{"field":"t"}}},
  {"data":{"name":"T"},"transform":[{"filter":"datum.p=='d'&&datum.k=='big'"}],"mark":{"type":"text","fontSize":13},
   "encoding":{"x":{"field":"x","type":"quantitative","scale":{"type":"log","domain":[1e-16,20],"nice":false}},"y":{"field":"y","type":"quantitative","scale":{"type":"log","domain":[1e-15,1e17],"nice":false}},"text":{"field":"t"}}},
  {"data":{"name":"T"},"transform":[{"filter":"datum.p=='d'&&datum.k=='om'"}],"mark":{"type":"text","fontSize":11,"fontStyle":"italic"},
   "encoding":{"x":{"field":"x","type":"quantitative","scale":{"type":"log","domain":[1e-16,20],"nice":false}},"y":{"field":"y","type":"quantitative","scale":{"type":"log","domain":[1e-15,1e17],"nice":false}},"text":{"field":"t"}}}
 ]},
{"width":110,"height":94,
 "layer":[
  {"data":{"name":"B"},"transform":[{"filter":"datum.p=='e'"}],"mark":{"type":"rect","opacity":1},
   "encoding":{"x":{"field":"x","type":"quantitative","scale":{"type":"log","domain":[1e-16,20],"nice":false},"axis":{"values":[1e-16,1e-10,1e-4],"labelExpr":"datum.value<1e-13?'10⁻¹⁶':datum.value<1e-7?'10⁻¹⁰':'10⁻⁴'","title":"ω","titleFontStyle":"italic"}},"x2":{"field":"x2"},
    "fill":{"field":"k","type":"nominal","scale":{"domain":["FL","SFL","SFLp"],"range":["#fac77c","#a8c4ee","#e3e3e3"]},"legend":null}}},
  {"data":{"name":"V"},"transform":[{"filter":"datum.p=='e'"}],"mark":{"type":"rule","stroke":"#444","strokeWidth":0.8,"strokeDash":[1.5,1.5]},
   "encoding":{"x":{"field":"x","type":"quantitative","scale":{"type":"log","domain":[1e-16,20],"nice":false}}}},
  {"data":{"name":"L"},"transform":[{"filter":"datum.p=='e'"}],"mark":{"type":"line","stroke":"#8a8a8a","strokeWidth":2.6,"clip":true},
   "encoding":{"x":{"field":"x","type":"quantitative","scale":{"type":"log","domain":[1e-16,20],"nice":false}},
    "y":{"field":"y","type":"quantitative","scale":{"type":"log","domain":[1e-15,1e17],"nice":false},"axis":{"values":[1e-14,1e-3,1e8],"labels":false,"title":null}},"detail":{"field":"g"}}},
  {"data":{"name":"L"},"transform":[{"filter":"datum.p=='e'"}],"mark":{"type":"line","stroke":"#eeeeee","strokeWidth":0.9,"clip":true},
   "encoding":{"x":{"field":"x","type":"quantitative","scale":{"type":"log","domain":[1e-16,20],"nice":false}},"y":{"field":"y","type":"quantitative","scale":{"type":"log","domain":[1e-15,1e17],"nice":false}},"detail":{"field":"g"}}},
  {"data":{"name":"C"},"transform":[{"filter":"datum.p=='e'&&datum.s!='sp-orb'"}],"mark":{"type":"line","strokeWidth":1.6,"clip":true,"interpolate":"monotone"},
   "encoding":{"x":{"field":"x","type":"quantitative","scale":{"type":"log","domain":[1e-16,20],"nice":false}},"y":{"field":"y","type":"quantitative","scale":{"type":"log","domain":[1e-15,1e17],"nice":false}},
    "stroke":{"field":"s","type":"nominal","scale":{"domain":["sp","orb","sp-orb"],"range":["#ff2020","#35a835","#1515f5"]},"legend":null}}},
  {"data":{"name":"C"},"transform":[{"filter":"datum.p=='e'&&datum.s=='sp-orb'"}],"mark":{"type":"line","strokeWidth":1.6,"clip":true,"interpolate":"monotone"},
   "encoding":{"x":{"field":"x","type":"quantitative","scale":{"type":"log","domain":[1e-16,20],"nice":false}},"y":{"field":"y","type":"quantitative","scale":{"type":"log","domain":[1e-15,1e17],"nice":false}},
    "stroke":{"field":"s","type":"nominal","scale":{"domain":["sp","orb","sp-orb"],"range":["#ff2020","#35a835","#1515f5"]},"legend":null}}},
  {"data":{"name":"T"},"transform":[{"filter":"datum.p=='e'&&datum.k=='lab'"}],"mark":{"type":"text","fontSize":14},
   "encoding":{"x":{"field":"x","type":"quantitative","scale":{"type":"log","domain":[1e-16,20],"nice":false}},"y":{"field":"y","type":"quantitative","scale":{"type":"log","domain":[1e-15,1e17],"nice":false}},"text":{"field":"t"}}},
  {"data":{"name":"T"},"transform":[{"filter":"datum.p=='e'&&datum.k=='big'"}],"mark":{"type":"text","fontSize":13},
   "encoding":{"x":{"field":"x","type":"quantitative","scale":{"type":"log","domain":[1e-16,20],"nice":false}},"y":{"field":"y","type":"quantitative","scale":{"type":"log","domain":[1e-15,1e17],"nice":false}},"text":{"field":"t"}}},
  {"data":{"name":"T"},"transform":[{"filter":"datum.p=='e'&&datum.k=='it'"}],"mark":{"type":"text","fontSize":13,"fontStyle":"italic"},
   "encoding":{"x":{"field":"x","type":"quantitative","scale":{"type":"log","domain":[1e-16,20],"nice":false}},"y":{"field":"y","type":"quantitative","scale":{"type":"log","domain":[1e-15,1e17],"nice":false}},"text":{"field":"t"}}},
  {"data":{"name":"T"},"transform":[{"filter":"datum.p=='e'&&datum.k=='om'"}],"mark":{"type":"text","fontSize":11,"fontStyle":"italic"},
   "encoding":{"x":{"field":"x","type":"quantitative","scale":{"type":"log","domain":[1e-16,20],"nice":false}},"y":{"field":"y","type":"quantitative","scale":{"type":"log","domain":[1e-15,1e17],"nice":false}},"text":{"field":"t"}}}
 ]},
{"width":110,"height":94,
 "layer":[
  {"data":{"name":"B"},"transform":[{"filter":"datum.p=='f'"}],"mark":{"type":"rect","opacity":1},
   "encoding":{"x":{"field":"x","type":"quantitative","scale":{"type":"log","domain":[1e-16,20],"nice":false},"axis":{"values":[1e-16,1e-10,1e-4],"labelExpr":"datum.value<1e-13?'10⁻¹⁶':datum.value<1e-7?'10⁻¹⁰':'10⁻⁴'","title":"ω","titleFontStyle":"italic"}},"x2":{"field":"x2"},
    "fill":{"field":"k","type":"nominal","scale":{"domain":["FL","SFL","SFLp"],"range":["#fac77c","#a8c4ee","#e3e3e3"]},"legend":null}}},
  {"data":{"name":"V"},"transform":[{"filter":"datum.p=='f'"}],"mark":{"type":"rule","stroke":"#444","strokeWidth":0.8,"strokeDash":[1.5,1.5]},
   "encoding":{"x":{"field":"x","type":"quantitative","scale":{"type":"log","domain":[1e-16,20],"nice":false}}}},
  {"data":{"name":"L"},"transform":[{"filter":"datum.p=='f'"}],"mark":{"type":"line","stroke":"#8a8a8a","strokeWidth":2.6,"clip":true},
   "encoding":{"x":{"field":"x","type":"quantitative","scale":{"type":"log","domain":[1e-16,20],"nice":false}},
    "y":{"field":"y","type":"quantitative","scale":{"type":"log","domain":[1e-15,1e17],"nice":false},"axis":{"values":[1e-14,1e-3,1e8],"labels":false,"title":null}},"detail":{"field":"g"}}},
  {"data":{"name":"L"},"transform":[{"filter":"datum.p=='f'"}],"mark":{"type":"line","stroke":"#eeeeee","strokeWidth":0.9,"clip":true},
   "encoding":{"x":{"field":"x","type":"quantitative","scale":{"type":"log","domain":[1e-16,20],"nice":false}},"y":{"field":"y","type":"quantitative","scale":{"type":"log","domain":[1e-15,1e17],"nice":false}},"detail":{"field":"g"}}},
  {"data":{"name":"C"},"transform":[{"filter":"datum.p=='f'&&datum.s!='sp-orb'"}],"mark":{"type":"line","strokeWidth":1.6,"clip":true,"interpolate":"monotone"},
   "encoding":{"x":{"field":"x","type":"quantitative","scale":{"type":"log","domain":[1e-16,20],"nice":false}},"y":{"field":"y","type":"quantitative","scale":{"type":"log","domain":[1e-15,1e17],"nice":false}},
    "stroke":{"field":"s","type":"nominal","scale":{"domain":["sp","orb","sp-orb"],"range":["#ff2020","#35a835","#1515f5"]},"legend":null}}},
  {"data":{"name":"C"},"transform":[{"filter":"datum.p=='f'&&datum.s=='sp-orb'"}],"mark":{"type":"line","strokeWidth":1.6,"clip":true,"interpolate":"monotone"},
   "encoding":{"x":{"field":"x","type":"quantitative","scale":{"type":"log","domain":[1e-16,20],"nice":false}},"y":{"field":"y","type":"quantitative","scale":{"type":"log","domain":[1e-15,1e17],"nice":false}},
    "stroke":{"field":"s","type":"nominal","scale":{"domain":["sp","orb","sp-orb"],"range":["#ff2020","#35a835","#1515f5"]},"legend":null}}},
  {"data":{"name":"R"},"mark":{"type":"rule","stroke":"#000","strokeWidth":0.6},
   "encoding":{"x":{"field":"x","type":"quantitative","scale":{"type":"log","domain":[1e-16,20],"nice":false}},"x2":{"field":"x2"},"y":{"field":"y","type":"quantitative","scale":{"type":"log","domain":[1e-15,1e17],"nice":false}}}},
  {"data":{"name":"T"},"transform":[{"filter":"datum.p=='f'&&datum.k=='lab'"}],"mark":{"type":"text","fontSize":14},
   "encoding":{"x":{"field":"x","type":"quantitative","scale":{"type":"log","domain":[1e-16,20],"nice":false}},"y":{"field":"y","type":"quantitative","scale":{"type":"log","domain":[1e-15,1e17],"nice":false}},"text":{"field":"t"}}},
  {"data":{"name":"T"},"transform":[{"filter":"datum.p=='f'&&datum.k=='big'"}],"mark":{"type":"text","fontSize":13},
   "encoding":{"x":{"field":"x","type":"quantitative","scale":{"type":"log","domain":[1e-16,20],"nice":false}},"y":{"field":"y","type":"quantitative","scale":{"type":"log","domain":[1e-15,1e17],"nice":false}},"text":{"field":"t"}}},
  {"data":{"name":"T"},"transform":[{"filter":"datum.p=='f'&&datum.k=='it'"}],"mark":{"type":"text","fontSize":13,"fontStyle":"italic"},
   "encoding":{"x":{"field":"x","type":"quantitative","scale":{"type":"log","domain":[1e-16,20],"nice":false}},"y":{"field":"y","type":"quantitative","scale":{"type":"log","domain":[1e-15,1e17],"nice":false}},"text":{"field":"t"}}},
  {"data":{"name":"T"},"transform":[{"filter":"datum.p=='f'&&datum.k=='om'"}],"mark":{"type":"text","fontSize":11,"fontStyle":"italic"},
   "encoding":{"x":{"field":"x","type":"quantitative","scale":{"type":"log","domain":[1e-16,20],"nice":false}},"y":{"field":"y","type":"quantitative","scale":{"type":"log","domain":[1e-15,1e17],"nice":false}},"text":{"field":"t"}}},
  {"data":{"name":"T"},"transform":[{"filter":"datum.p=='f'&&datum.k=='ann1'"}],"mark":{"type":"text","fontSize":13},
   "encoding":{"x":{"field":"x","type":"quantitative","scale":{"type":"log","domain":[1e-16,20],"nice":false}},"y":{"field":"y","type":"quantitative","scale":{"type":"log","domain":[1e-15,1e17],"nice":false}},"text":{"field":"t"}}},
  {"data":{"name":"T"},"transform":[{"filter":"datum.p=='f'&&datum.k=='ann2'"}],"mark":{"type":"text","fontSize":8.5},
   "encoding":{"x":{"field":"x","type":"quantitative","scale":{"type":"log","domain":[1e-16,20],"nice":false}},"y":{"field":"y","type":"quantitative","scale":{"type":"log","domain":[1e-15,1e17],"nice":false}},"text":{"field":"t"}}}
 ]}
]
}
